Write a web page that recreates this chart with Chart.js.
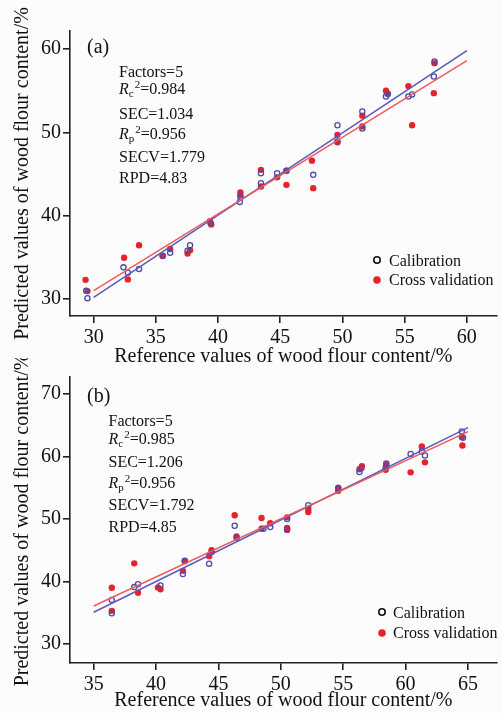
<!DOCTYPE html>
<html>
<head>
<meta charset="utf-8">
<script src="https://cdn.jsdelivr.net/npm/chart.js"></script>
<style>
  body { margin: 0; background: #fcfcfc; }
  #wrap { position: relative; width: 502px; height: 713px; overflow: hidden; }
  .box { position: absolute; left: 0; width: 502px; }
</style>
</head>
<body>
<div id="wrap">
  <div class="box" style="top:0;height:372px"><canvas id="chartA"></canvas></div>
  <div class="box" style="top:358px;height:355px"><canvas id="chartB"></canvas></div>
</div>
<script>
// ---- (a) data ----
const calAX = [29.4, 29.5, 32.4, 32.75, 33.65, 35.55, 36.15, 37.55, 37.75, 39.4, 41.8, 41.75, 43.45, 43.45, 44.75, 45.5, 47.65, 49.6, 49.6, 51.6, 51.6, 53.5, 53.65, 55.3, 55.6, 57.4, 57.35];
const calAY = [31.0, 30.1, 33.8, 33.15, 33.6, 35.2, 35.55, 35.8, 36.45, 39.1, 42.25, 41.65, 45.1, 43.9, 45.1, 45.4, 44.9, 50.85, 48.9, 52.5, 50.45, 54.3, 54.6, 54.3, 54.55, 58.5, 56.7];
const cvAX = [29.35, 29.5, 32.45, 32.75, 33.65, 35.55, 36.15, 37.55, 37.75, 39.35, 39.45, 41.8, 41.8, 43.45, 43.45, 44.75, 45.5, 45.5, 47.55, 47.65, 49.6, 49.6, 51.6, 51.6, 53.5, 53.65, 55.3, 55.6, 57.4, 57.35];
const cvAY = [32.3, 30.95, 34.95, 32.35, 36.45, 35.15, 36.0, 35.45, 35.85, 39.35, 38.95, 42.8, 42.45, 45.5, 43.5, 44.6, 45.4, 43.7, 46.6, 43.3, 49.7, 48.8, 52.0, 50.7, 55.0, 54.65, 55.55, 50.85, 58.3, 54.7];
const fitCalAX = [30, 60], fitCalAY = [30.2, 59.8];
const fitCvAX = [30, 60], fitCvAY = [31.0, 58.6];
const ticksAX = [30, 35, 40, 45, 50, 55, 60];
const ticksAY = [30, 40, 50, 60];
const statsA = ['5', '0.984', '1.034', '0.956', '1.779', '4.83'];

// ---- (b) data ----
const calBX = [36.45, 36.45, 38.25, 38.55, 40.35, 42.15, 42.3, 44.25, 44.45, 46.3, 46.45, 48.6, 49.15, 50.5, 50.5, 52.2, 54.6, 56.3, 56.45, 58.45, 58.4, 60.4, 61.3, 61.55, 64.5, 64.6];
const calBY = [37.05, 34.9, 39.1, 39.55, 39.35, 41.2, 43.3, 42.85, 44.7, 48.9, 47.0, 48.45, 48.7, 50.0, 48.3, 52.2, 54.9, 57.5, 58.1, 58.85, 58.2, 60.4, 60.8, 60.15, 64.0, 63.0];
const cvBX = [36.45, 36.45, 38.25, 38.55, 40.15, 40.35, 42.15, 42.3, 44.25, 44.45, 46.3, 46.45, 48.45, 48.45, 49.15, 50.5, 50.5, 50.5, 52.2, 52.2, 54.6, 54.6, 56.3, 56.5, 58.45, 58.4, 60.4, 61.3, 61.55, 64.5, 64.55];
const cvBY = [39.0, 35.3, 42.9, 38.2, 39.05, 38.75, 41.7, 43.25, 44.05, 45.0, 50.6, 47.2, 50.15, 48.45, 49.3, 50.25, 48.55, 48.25, 51.6, 51.1, 55.0, 54.5, 57.95, 58.45, 58.65, 57.85, 57.45, 61.6, 59.05, 63.1, 61.75];
const fitCalBX = [35, 65], fitCalBY = [35.07, 64.6];
const fitCvBX = [35, 65], fitCvBY = [36.08, 63.97];
const ticksBX = [35, 40, 45, 50, 55, 60, 65];
const ticksBY = [30, 40, 50, 60, 70];
const statsB = ['5', '0.985', '1.206', '0.956', '1.792', '4.85'];

const SERIF = '"Liberation Serif", "Times New Roman", serif';
const BLUE = '#4b4bb0', RED = '#e8212b';
const xTitle = 'Reference values of wood flour content/%';
const yTitle = 'Predicted values of wood flour content/%';

Chart.defaults.font.family = SERIF;
Chart.defaults.color = '#111';

const zip = (xs, ys) => xs.map((x, i) => ({ x, y: ys[i] }));

// draws a run of text pieces with own font / vertical shift
function rich(ctx, x, y, parts) {
  for (const p of parts) {
    ctx.font = p.f;
    ctx.fillText(p.t, x, y + (p.dy || 0));
    x += ctx.measureText(p.t).width + (p.gap || 0);
  }
}

const annotPlugin = {
  id: 'annot',
  afterDraw(chart, args, o) {
    const ctx = chart.ctx;
    ctx.save();
    ctx.fillStyle = '#111';
    ctx.textBaseline = 'alphabetic';
    ctx.textAlign = 'left';
    const reg = '16px ' + SERIF, it = 'italic 16px ' + SERIF, sm = '11px ' + SERIF;
    ctx.font = '20px ' + SERIF;
    ctx.fillText(o.label, o.labelX, o.labelY);
    const s = o.stats, b = o.statY, x = o.statX;
    rich(ctx, x, b[0], [{ t: 'Factors=' + s[0], f: reg }]);
    rich(ctx, x, b[1], [{ t: 'R', f: it }, { t: 'c', f: sm, dy: 3, gap: 1 }, { t: '2', f: sm, dy: -6 }, { t: '=' + s[1], f: reg }]);
    rich(ctx, x, b[2], [{ t: 'SEC=' + s[2], f: reg }]);
    rich(ctx, x, b[3], [{ t: 'R', f: it }, { t: 'p', f: sm, dy: 3, gap: 1 }, { t: '2', f: sm, dy: -6 }, { t: '=' + s[3], f: reg }]);
    rich(ctx, x, b[4], [{ t: 'SECV=' + s[4], f: reg }]);
    rich(ctx, x, b[5], [{ t: 'RPD=' + s[5], f: reg }]);
    // legend
    ctx.lineWidth = 1.6;
    ctx.strokeStyle = '#111';
    ctx.beginPath();
    ctx.arc(o.legX, o.legY[0], 3.2, 0, Math.PI * 2);
    ctx.stroke();
    ctx.fillStyle = RED;
    ctx.beginPath();
    ctx.arc(o.legX, o.legY[1], 3.8, 0, Math.PI * 2);
    ctx.fill();
    ctx.fillStyle = '#111';
    ctx.font = reg;
    ctx.fillText('Calibration', o.legTextX, o.legY[0] + 6);
    ctx.fillText('Cross validation', o.legTextX, o.legY[1] + 5);
    ctx.restore();
  }
};

function axisCommon(ticks) {
  return {
    type: 'linear',
    afterBuildTicks: s => { s.ticks = ticks.map(v => ({ value: v })); },
    border: { display: true, color: '#222', width: 1.6 },
    grid: { display: true, drawOnChartArea: false, drawTicks: true, tickLength: 7, color: '#222', lineWidth: 1.6 },
  };
}

function makeChart(id, c) {
  return new Chart(document.getElementById(id), {
    type: 'scatter',
    data: {
      datasets: [
        { label: 'Calibration', data: zip(c.calX, c.calY), pointRadius: 2.6, pointBorderWidth: 1.3,
          pointBackgroundColor: 'rgba(0,0,0,0)', pointBorderColor: BLUE, order: 2 },
        { label: 'Cross validation', data: zip(c.cvX, c.cvY), pointRadius: 3.2, pointBorderWidth: 0,
          pointBackgroundColor: RED, pointBorderColor: RED, order: 3 },
        { type: 'line', data: zip(c.fitCalX, c.fitCalY), borderColor: '#5959bd', borderWidth: 1.5,
          pointRadius: 0, fill: false, order: 1 },
        { type: 'line', data: zip(c.fitCvX, c.fitCvY), borderColor: '#f05a5a', borderWidth: 1.5,
          pointRadius: 0, fill: false, order: 0 },
      ]
    },
    options: {
      responsive: true,
      maintainAspectRatio: false,
      animation: false,
      layout: { padding: { top: c.padTop, right: 0, left: 0, bottom: 0 } },
      plugins: { legend: { display: false }, tooltip: { enabled: false }, annot: c.annot },
      scales: {
        x: Object.assign(axisCommon(c.xTicks), {
          min: c.xMin, max: c.xMax,
          afterFit: s => { s.height = c.xAxisH; },
          ticks: { font: { size: 20 }, color: '#111', padding: 3, maxRotation: 0 },
          title: { display: true, text: xTitle, font: { size: 20 }, color: '#111', padding: { top: 0, bottom: c.xTitlePad } },
        }),
        y: Object.assign(axisCommon(c.yTicks), {
          min: c.yMin, max: c.yMax,
          afterFit: s => { s.width = 70; },
          ticks: { font: { size: 20 }, color: '#111', padding: 2 },
          title: { display: true, text: yTitle, font: { size: 20 }, color: '#111', padding: { top: 11, bottom: 0 } },
        }),
      }
    },
    plugins: [annotPlugin]
  });
}

makeChart('chartA', {
  calX: calAX, calY: calAY, cvX: cvAX, cvY: cvAY,
  fitCalX: fitCalAX, fitCalY: fitCalAY, fitCvX: fitCvAX, fitCvY: fitCvAY,
  xTicks: ticksAX, yTicks: ticksAY,
  xMin: 28.1, xMax: 62.4, yMin: 27.96, yMax: 62.16,
  padTop: 31, xAxisH: 56, xTitlePad: 3.7,
  annot: { label: '(a)', labelX: 87, labelY: 53, stats: statsA, statX: 119,
           statY: [76.5, 94, 119, 139, 162, 183], legX: 377, legY: [260, 280], legTextX: 389 }
});

makeChart('chartB', {
  calX: calBX, calY: calBY, cvX: cvBX, cvY: cvBY,
  fitCalX: fitCalBX, fitCalY: fitCalBY, fitCvX: fitCvBX, fitCvY: fitCvBY,
  xTicks: ticksBX, yTicks: ticksBY,
  xMin: 33.1, xMax: 67.3, yMin: 26.96, yMax: 72.7,
  padTop: 19, xAxisH: 50, xTitlePad: 0,
  annot: { label: '(b)', labelX: 87, labelY: 44, stats: statsB, statX: 108.5,
           statY: [67.7, 85.5, 109, 130, 152, 174], legX: 382, legY: [254, 275], legTextX: 393 }
});
</script>
</body>
</html>
